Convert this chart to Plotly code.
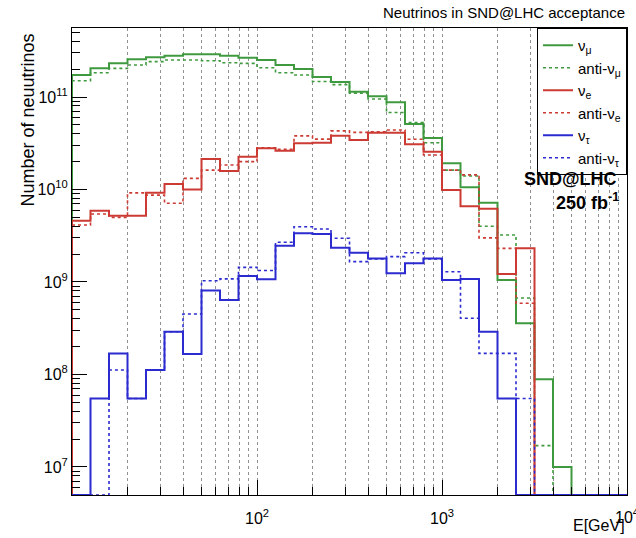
import numpy as np
import plotly.graph_objects as go

# ---- data (30 log-uniform bins, 10 per decade, 10 GeV .. 10 TeV) ----
log_emin, log_emax, n_bins = 1.0, 4.0, 30

numu = [1.73e11, 2.04e11, 2.31e11, 2.56e11, 2.69e11, 2.79e11, 2.89e11, 2.89e11, 2.79e11, 2.66e11,
        2.51e11, 2.22e11, 2.01e11, 1.65e11, 1.45e11, 1.14e11, 1.02e11, 8.8e10, 5.1e10, 3.6e10,
        1.92e10, 1.06e10, 7.2e9, 1.05e9, 3.57e8, 8.9e7, 1.0e7, 0, 0, 0]
anumu = [1.5e11, 1.83e11, 2.04e11, 2.22e11, 2.41e11, 2.51e11, 2.51e11, 2.47e11, 2.35e11, 2.31e11,
         2.07e11, 1.83e11, 1.73e11, 1.47e11, 1.36e11, 1.1e11, 9.5e10, 6.8e10, 5.3e10, 3.2e10,
         1.62e10, 1.4e10, 4.0e9, 3.22e9, 6.7e8, 1.7e7, 0, 0, 0, 0]
nue = [4.6e9, 5.9e9, 5.2e9, 5.2e9, 9.2e9, 1.15e10, 1.0e10, 2.14e10, 1.58e10, 2.26e10,
       2.79e10, 2.63e10, 3.16e10, 3.2e10, 3.8e10, 3.43e10, 4.1e10, 4.1e10, 3.08e10, 2.56e10,
       9.9e9, 6.6e9, 6.2e9, 1.22e9, 2.31e9, 0, 0, 0, 0, 0]
anue = [4.13e9, 5.43e9, 5.0e9, 9.2e9, 8.7e9, 7.1e9, 1.32e10, 1.62e10, 1.84e10, 2.0e10,
        2.83e10, 2.72e10, 3.8e10, 3.5e10, 4.3e10, 4.15e10, 4.2e10, 4.4e10, 3.49e10, 2.36e10,
        1.62e10, 1.44e10, 3.0e9, 2.31e9, 5.9e8, 0, 0, 0, 0, 0]
nutau = [0, 5.5e7, 1.69e8, 5.5e7, 1.12e8, 2.9e8, 1.66e8, 8.1e8, 6.4e8, 1.16e9,
         1.07e9, 2.47e9, 3.36e9, 3.3e9, 2.35e9, 2.07e9, 1.8e9, 1.24e9, 1.59e9, 1.8e9,
         1.05e9, 1.08e9, 2.9e8, 5.5e7, 0, 0, 0, 0, 0, 0]
anutau = [0, 0, 1.12e8, 5.5e7, 1.12e8, 2.9e8, 4.5e8, 1.03e9, 1.08e9, 1.44e9,
          1.33e9, 2.69e9, 3.96e9, 3.74e9, 2.97e9, 1.66e9, 1.77e9, 1.88e9, 2.07e9, 1.77e9,
          1.29e9, 4.05e8, 1.69e8, 1.69e8, 5.5e7, 0, 0, 0, 0, 0]

series_names = ["ν<sub>μ</sub>", "anti-ν<sub>μ</sub>", "ν<sub>e</sub>", "anti-ν<sub>e</sub>",
                "ν<sub>τ</sub>", "anti-ν<sub>τ</sub>"]
series_values = [numu, anumu, nue, anue, nutau, anutau]
series_colors = ["#3f9a3f", "#3f9a3f", "#cc3b33", "#cc3b33", "#2b2bd0", "#2b2bd0"]
series_dash = ["solid", "dot", "solid", "dot", "solid", "dot"]

y_log_range = [6.697, 11.746]
x_major = [100, 1000]
x_major_text = ["10<sup>2</sup>", "10<sup>3</sup>"]
y_major = [1e7, 1e8, 1e9, 1e10, 1e11]
y_major_text = ["10<sup>7</sup>", "10<sup>8</sup>", "10<sup>9</sup>", "10<sup>10</sup>", "10<sup>11</sup>"]

edges = np.logspace(log_emin, log_emax, n_bins + 1)
floor = 10 ** y_log_range[0]
minor_vals = [m * 10 ** k for k in range(1, 4) for m in range(2, 10)]
y_minor = [m * 10 ** k for k in range(6, 12) for m in range(2, 10)]

fig = go.Figure()
for name, vals, col, dash in zip(series_names, series_values, series_colors, series_dash):
    v = np.array(vals, dtype=float)
    v[v <= 0] = floor
    xs = np.concatenate([[edges[0]], edges[1:], [edges[-1]]])
    ys = np.concatenate([[floor], v, [floor]])
    fig.add_trace(go.Scatter(
        x=xs, y=ys, mode="lines", name=name,
        line=dict(shape="vh", color=col, width=2 if dash == "solid" else 1.6, dash=dash),
    ))

font_main = "Liberation Sans, Arial, sans-serif"
fig.update_layout(
    width=636, height=538,
    margin=dict(l=72, r=9, t=28, b=43),
    paper_bgcolor="white", plot_bgcolor="white",
    font=dict(family=font_main, color="black", size=15),
    showlegend=True,
    legend=dict(x=1, xanchor="right", y=1, yanchor="top",
                bordercolor="black", borderwidth=1, bgcolor="white",
                font=dict(size=15), itemwidth=30, tracegroupgap=0),
    xaxis=dict(type="log", range=[log_emin, log_emax],
               tickmode="array", tickvals=x_major, ticktext=x_major_text,
               ticks="inside", ticklen=15, tickcolor="black", ticklabelstandoff=9,
               showgrid=True, gridcolor="#909090", griddash="dot", gridwidth=1,
               showline=True, linecolor="black", linewidth=1, mirror=True,
               zeroline=False, tickfont=dict(size=16),
               minor=dict(tickmode="array", tickvals=minor_vals, ticks="inside", ticklen=8,
                          tickcolor="black", showgrid=True, gridcolor="#909090",
                          griddash="dot", gridwidth=1)),
    yaxis=dict(type="log", range=y_log_range,
               tickmode="array", tickvals=y_major, ticktext=y_major_text,
               ticks="inside", ticklen=15, tickcolor="black",
               showgrid=False,
               showline=True, linecolor="black", linewidth=1, mirror=True,
               zeroline=False, tickfont=dict(size=16),
               minor=dict(tickmode="array", tickvals=y_minor, ticks="inside", ticklen=8,
                          tickcolor="black", showgrid=False)),
)

fig.add_annotation(text="10<sup>4</sup>", xref="paper", yref="paper",
                   x=1, y=0, xanchor="center", yanchor="top", yshift=-9,
                   showarrow=False, font=dict(size=16))
fig.add_annotation(text="Neutrinos in SND@LHC acceptance", xref="paper", yref="paper",
                   x=1, y=1, xanchor="right", yanchor="bottom", yshift=5,
                   showarrow=False, font=dict(size=15))
fig.add_annotation(text="Number of neuutrinos", xref="paper", yref="paper",
                   x=-0.081, y=1, xanchor="center", yanchor="top", yshift=-4,
                   textangle=-90, showarrow=False, font=dict(size=18))
fig.add_annotation(text="E[GeV]", xref="paper", yref="paper",
                   x=1, y=-0.066, xanchor="right", yanchor="middle",
                   showarrow=False, font=dict(size=16))
fig.add_annotation(text="<b>SND@LHC</b>", xref="paper", yref="paper",
                   x=(522 - 72) / 555, y=(495 - 179) / 467, xanchor="left", yanchor="middle",
                   showarrow=False, font=dict(size=18))
fig.add_annotation(text="<b>250 fb<sup>-1</sup></b>", xref="paper", yref="paper",
                   x=(554 - 72) / 555, y=(495 - 201) / 467, xanchor="left", yanchor="middle",
                   showarrow=False, font=dict(size=18))

fig.write_html("out.html")
